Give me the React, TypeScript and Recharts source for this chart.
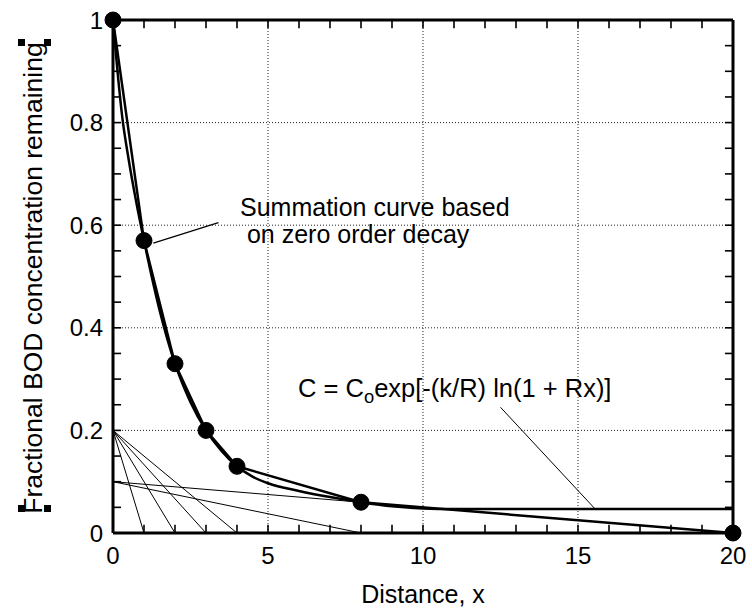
import { LineChart, Line, XAxis, YAxis, ReferenceLine } from 'recharts';

// axis labels and minor tick marks
const xMajor = [0, 5, 10, 15, 20];
const yMajor = [0, 0.2, 0.4, 0.6, 0.8, 1];
const xMinor = [1, 2, 3, 4, 5, 6, 7, 8, 9, 10, 11, 12, 13, 14, 15, 16, 17, 18, 19];
const yMinor = [0.05, 0.1, 0.15, 0.2, 0.25, 0.3, 0.35, 0.4, 0.45, 0.5, 0.55, 0.6, 0.65, 0.7, 0.75, 0.8, 0.85, 0.9, 0.95];
const xGrid = [5, 10, 15];
const yGrid = [0.2, 0.4, 0.6, 0.8];
// tick mark length, in axis units (about 8px each way)
const xTickLen = 0.26;
const yTickLen = 0.016;

// summation curve points (zero order decay)
const pointX = [0, 1, 2, 3, 4, 8, 20];
const pointY = [1, 0.57, 0.33, 0.2, 0.13, 0.06, 0];

// C = Co exp[-(k/R) ln(1 + Rx)]
const smoothX = [0, 0.1, 0.3, 0.5, 0.75, 1, 1.5, 2, 2.5, 3, 3.5, 4, 4.5, 5, 6, 7, 8, 9, 10, 11, 12, 14, 16, 18, 20];
const smoothY = [1, 0.93, 0.81, 0.73, 0.645, 0.57, 0.435, 0.33, 0.255, 0.2, 0.16, 0.13, 0.11, 0.097, 0.082, 0.07, 0.06, 0.052, 0.048, 0.047, 0.047, 0.047, 0.047, 0.047, 0.047];

// individual zero order decay lines: start value at x=0, distance where they hit 0
const decayStart = [0.2, 0.2, 0.2, 0.2, 0.1, 0.1];
const decayEnd = [1, 2, 3, 4, 8, 20];

// leader lines for the annotations
const sumLeaderX = [1.3, 3.4];
const sumLeaderY = [0.565, 0.605];
const eqLeaderX = [12.5, 15.55];
const eqLeaderY = [0.245, 0.047];

const zip = (xs: number[], ys: number[]) => xs.map((x, i) => ({ x, y: ys[i] }));

// the little inward tick marks on all four sides of the frame
const tickSegments = [
    ...xMinor.map((v) => [{ x: v, y: 1 }, { x: v, y: 1 - yTickLen }]),
    ...yMinor.map((v) => [{ x: 0, y: v }, { x: xTickLen, y: v }]),
    ...yMinor.map((v) => [{ x: 20, y: v }, { x: 20 - xTickLen, y: v }]),
    ...xMinor.map((v) => [{ x: v, y: yTickLen }, { x: v, y: 0 }]),
];

const font = '"Liberation Sans", Arial, Helvetica, sans-serif';

const sq = (left: number, top: number) => (
    <div style={{ position: 'absolute', left, top, width: 7, height: 7, background: '#000' }} />
);

export default function App() {
    const axisLine = { stroke: '#000', strokeWidth: 3 };
    const tickStyle = { fill: '#000', fontSize: 24, fontFamily: font };

    return (
        <div style={{ position: 'relative', width: 752, height: 608, fontFamily: font, color: '#000' }}>
            <style>{'body { margin: 0; }'}</style>
            <LineChart width={752} height={608} margin={{ top: 18, right: 17, bottom: 15, left: 0 }}>
                <XAxis
                    xAxisId={0}
                    dataKey="x"
                    type="number"
                    domain={[0, 20]}
                    ticks={xMajor}
                    interval={0}
                    tickSize={0}
                    tickMargin={14}
                    height={60}
                    axisLine={axisLine}
                    tickLine={false}
                    tick={tickStyle}
                />
                <XAxis
                    xAxisId="top"
                    orientation="top"
                    dataKey="x"
                    type="number"
                    domain={[0, 20]}
                    height={2}
                    tick={false}
                    tickLine={false}
                    axisLine={axisLine}
                />
                <YAxis
                    yAxisId={0}
                    type="number"
                    domain={[0, 1]}
                    ticks={yMajor}
                    interval={0}
                    tickSize={0}
                    tickMargin={10}
                    width={113}
                    axisLine={axisLine}
                    tickLine={false}
                    tick={tickStyle}
                />
                <YAxis
                    yAxisId="right"
                    orientation="right"
                    type="number"
                    domain={[0, 1]}
                    width={2}
                    tick={false}
                    tickLine={false}
                    axisLine={axisLine}
                />
                {xGrid.map((v) => (
                    <ReferenceLine key={'gx' + v} x={v} stroke="#222" strokeWidth={1} strokeDasharray="1 2" />
                ))}
                {yGrid.map((v) => (
                    <ReferenceLine key={'gy' + v} y={v} stroke="#222" strokeWidth={1} strokeDasharray="1 2" />
                ))}
                {decayStart.map((c, i) => (
                    <Line
                        key={'d' + i}
                        data={[{ x: 0, y: c }, { x: decayEnd[i], y: 0 }]}
                        dataKey="y"
                        type="linear"
                        stroke="#000"
                        strokeWidth={1}
                        dot={false}
                        isAnimationActive={false}
                    />
                ))}
                {tickSegments.map((seg, i) => (
                    <Line
                        key={'t' + i}
                        data={seg}
                        dataKey="y"
                        type="linear"
                        stroke="#000"
                        strokeWidth={1.6}
                        dot={false}
                        isAnimationActive={false}
                    />
                ))}
                <Line
                    data={zip(sumLeaderX, sumLeaderY)}
                    dataKey="y"
                    type="linear"
                    stroke="#000"
                    strokeWidth={1.2}
                    dot={false}
                    isAnimationActive={false}
                />
                <Line
                    data={zip(eqLeaderX, eqLeaderY)}
                    dataKey="y"
                    type="linear"
                    stroke="#000"
                    strokeWidth={1}
                    dot={false}
                    isAnimationActive={false}
                />
                <Line
                    data={zip(smoothX, smoothY)}
                    dataKey="y"
                    type="monotone"
                    stroke="#000"
                    strokeWidth={2.5}
                    dot={false}
                    isAnimationActive={false}
                />
                <Line
                    data={zip(pointX, pointY)}
                    dataKey="y"
                    type="linear"
                    stroke="#000"
                    strokeWidth={2.5}
                    dot={{ r: 8, fill: '#000', stroke: '#000', strokeWidth: 1 }}
                    isAnimationActive={false}
                />
            </LineChart>

            <div style={{ position: 'absolute', left: 240, top: 194, fontSize: 25, lineHeight: '27px', whiteSpace: 'nowrap' }}>
                Summation curve based
                <br />
                &nbsp;on zero order decay
            </div>
            <div style={{ position: 'absolute', left: 298, top: 376, fontSize: 25.5, lineHeight: '25px', whiteSpace: 'nowrap' }}>
                C = C<span style={{ fontSize: '0.72em', position: 'relative', top: 6 }}>o</span>exp[-(k/R) ln(1 + Rx)]
            </div>
            <div style={{ position: 'absolute', left: 423, top: 582, transform: 'translateX(-50%)', fontSize: 25, lineHeight: '25px', whiteSpace: 'nowrap' }}>
                Distance, x
            </div>
            <div
                style={{
                    position: 'absolute',
                    left: 33,
                    top: 278,
                    transform: 'translate(-50%, -50%) rotate(-90deg)',
                    fontSize: 26.5,
                    lineHeight: '26px',
                    whiteSpace: 'nowrap',
                }}
            >
                Fractional BOD concentration remaining
            </div>
            {sq(18, 505)}
            {sq(44, 505)}
            {sq(18, 39)}
            {sq(44, 39)}
        </div>
    );
}
